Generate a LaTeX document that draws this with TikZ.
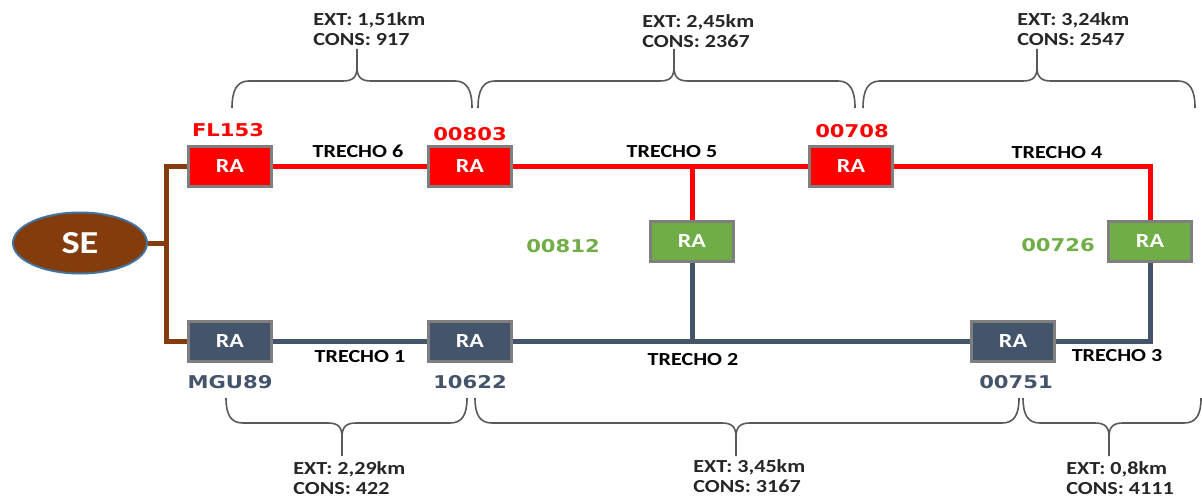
\documentclass[tikz,border=0pt]{standalone}
\usepackage{fontspec}
\usetikzlibrary{shapes.geometric}
\newfontfamily\fonteC{Carlito}[FakeStretch=1.2]
\newfontfamily\fonteV{DejaVu Sans}[FakeStretch=1.2]
\definecolor{vermelho}{HTML}{FF0000}
\definecolor{verde}{HTML}{70AD47}
\definecolor{azulesc}{HTML}{44546A}
\definecolor{marrom}{HTML}{843C0C}
\definecolor{bordacinza}{HTML}{7F7F7F}
\definecolor{bordase}{HTML}{41719C}
\definecolor{cinzachave}{HTML}{595959}
\tikzset{
  se/.style={ellipse,draw=bordase,line width=1pt,fill=marrom,minimum width=67pt,minimum height=30.5pt,
    inner sep=0pt,text=white,font=\fonteC\bfseries\fontsize{16}{18}\selectfont},
  ra/.style={draw=bordacinza,line width=1.5pt,minimum width=41.5pt,minimum height=20pt,inner sep=0pt,
    text=white,font=\fonteC\bfseries\fontsize{10}{12}\selectfont},
  linha/.style={line width=2.5pt},
  idtxt/.style={anchor=base,inner sep=0pt,font=\fonteV\bfseries\fontsize{8.8}{10}\selectfont},
  trecho/.style={anchor=base,inner sep=0pt,font=\fonteC\bfseries\fontsize{9.2}{11}\selectfont},
  dados/.style={anchor=north west,inner sep=0pt,align=left,text=black!85,font=\fonteC\bfseries\fontsize{9.2}{10.3}\selectfont},
  chave/.style={draw=cinzachave,line width=0.8pt}
}
% chave para cima: #1 inicio, #2 ponta, #3 fim
\newcommand{\chavesup}[3]{%
  \draw[chave] (#1,391) .. controls (#1,409) and (#1+5,418) .. (#1+17,418) -- (#2-14,418)
    .. controls (#2-4,418) and (#2,422) .. (#2,432) -- (#2,450);
  \draw[chave] (#2,432) .. controls (#2,422) and (#2+4,418) .. (#2+14,418) -- (#3-17,418)
    .. controls (#3-5,418) and (#3,409) .. (#3,391);}
% chave para baixo
\newcommand{\chaveinf}[3]{%
  \draw[chave] (#1,101) .. controls (#1,84) and (#1+5,76) .. (#1+17,76) -- (#2-14,76)
    .. controls (#2-4,76) and (#2,72) .. (#2,62) -- (#2,43);
  \draw[chave] (#2,62) .. controls (#2,72) and (#2+4,76) .. (#2+14,76) -- (#3-17,76)
    .. controls (#3-5,76) and (#3,84) .. (#3,101);}
\begin{document}
\begin{tikzpicture}[x=0.5pt,y=0.5pt]
\useasboundingbox (0,0) rectangle (1202,499);
% subestacao e religadores
\node[se] (se) at (80,256) {SE};
\node[ra,fill=vermelho] (fl153) at (230,333) {RA};
\node[ra,fill=vermelho] (r803) at (470,333) {RA};
\node[ra,fill=vermelho] (r708) at (851,333) {RA};
\node[ra,fill=verde] (r812) at (692,258) {RA};
\node[ra,fill=verde] (r726) at (1150,258) {RA};
\node[ra,fill=azulesc] (mgu89) at (230,158) {RA};
\node[ra,fill=azulesc] (r622) at (470,158) {RA};
\node[ra,fill=azulesc] (r751) at (1013,158) {RA};
% trechos
\coordinate (jn) at (166,256);
\draw[linha,marrom] (se.east) -- (jn);
\draw[linha,marrom] (fl153.west) -| (jn);
\draw[linha,marrom] (mgu89.west) -| (jn);
\draw[linha,vermelho] (fl153.east) -- (r803.west);
\draw[linha,vermelho] (r803.east) -- (r708.west);
\draw[linha,vermelho] (r708.east) -| (r726.north);
\draw[linha,vermelho] (r812.north) -- (r812.north |- r803.east);
\draw[linha,azulesc] (mgu89.east) -- (r622.west);
\draw[linha,azulesc] (r622.east) -- (r751.west);
\draw[linha,azulesc] (r751.east) -| (r726.south);
\draw[linha,azulesc] (r812.south) -- (r812.south |- r622.east);
% codigos
\node[idtxt,text=vermelho] (lfl153) at (228,363) {FL153};
\node[idtxt,text=vermelho] (l803) at (470,359) {00803};
\node[idtxt,text=vermelho] (l708) at (852,362) {00708};
\node[idtxt,text=verde] (l812) at (563,247) {00812};
\node[idtxt,text=verde] (l726) at (1058,248) {00726};
\node[idtxt,text=azulesc] (lmgu89) at (230,111) {MGU89};
\node[idtxt,text=azulesc] (l622) at (470,111) {10622};
\node[idtxt,text=azulesc] (l751) at (1016,111) {00751};
\node[trecho] (t6) at (358,342) {TRECHO 6};
\node[trecho] (t5) at (672,342) {TRECHO 5};
\node[trecho] (t4) at (1057,341) {TRECHO 4};
\node[trecho] (t1) at (360,137) {TRECHO 1};
\node[trecho] (t2) at (693,134) {TRECHO 2};
\node[trecho] (t3) at (1117,138) {TRECHO 3};
% extensao e consumidores
\chavesup{232}{357}{472}
\chavesup{478}{674}{855}
\chavesup{863}{1037}{1195}
\chaveinf{226}{342}{467}
\chaveinf{475}{736}{1019}
\chaveinf{1023}{1109}{1201}
\node[dados] (d6) at (313,487) {EXT: 1,51km\\CONS: 917};
\node[dados] (d5) at (642,485) {EXT: 2,45km\\CONS: 2367};
\node[dados] (d4) at (1017,487) {EXT: 3,24km\\CONS: 2547};
\node[dados] (d1) at (293,38) {EXT: 2,29km\\CONS: 422};
\node[dados] (d2) at (693,40) {EXT: 3,45km\\CONS: 3167};
\node[dados] (d3) at (1066,38) {EXT: 0,8km\\CONS: 4111};
\end{tikzpicture}
\end{document}
